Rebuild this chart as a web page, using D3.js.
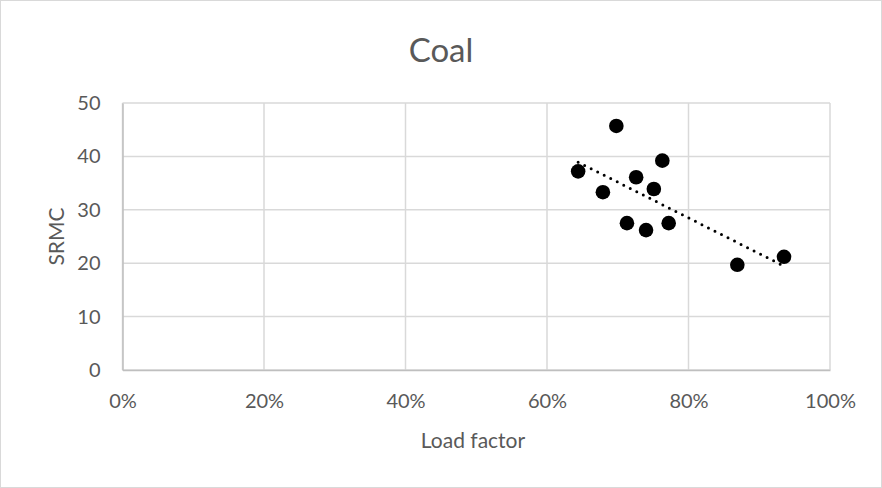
<!DOCTYPE html>
<html>
<head>
<meta charset="utf-8">
<script src="https://cdn.jsdelivr.net/npm/d3@7"></script>
<style>
  html, body { margin: 0; padding: 0; background: #fff; }
  svg text { font-family: Lato, "Open Sans", sans-serif; fill: #595959; }
</style>
</head>
<body>
<div id="chart"></div>
<script>
// Data
const loadFactor = [0.698, 0.763, 0.644, 0.726, 0.751, 0.679, 0.713, 0.772, 0.740, 0.869, 0.935];
const srmc = [45.7, 39.2, 37.2, 36.1, 33.9, 33.3, 27.5, 27.5, 26.2, 19.7, 21.2];
const xTicks = [0, 0.2, 0.4, 0.6, 0.8, 1.0];
const yTicks = [0, 10, 20, 30, 40, 50];
const chartTitle = 'Coal';
const xTitle = 'Load factor';
const yTitle = 'SRMC';

const width = 882, height = 488;
const margin = { top: 103, right: 52, bottom: 118, left: 122.5 };

const svg = d3.select('#chart')
  .append('svg')
  .attr('width', width)
  .attr('height', height);

// outer chart border
svg.append('rect')
  .attr('x', 0.5).attr('y', 0.5)
  .attr('width', width - 1).attr('height', height - 1)
  .attr('fill', '#fff')
  .attr('stroke', '#d9d9d9');

const x = d3.scaleLinear().domain([0, 1]).range([margin.left, width - margin.right]);
const y = d3.scaleLinear().domain([0, 50]).range([height - margin.bottom, margin.top]);

// gridlines
svg.append('g')
  .selectAll('line.hgrid')
  .data(yTicks)
  .join('line')
    .attr('class', 'hgrid')
    .attr('x1', x(0)).attr('x2', x(1))
    .attr('y1', d => y(d)).attr('y2', d => y(d))
    .attr('stroke', '#d9d9d9')
    .attr('stroke-width', 1.5);

svg.append('g')
  .selectAll('line.vgrid')
  .data(xTicks)
  .join('line')
    .attr('class', 'vgrid')
    .attr('x1', d => x(d)).attr('x2', d => x(d))
    .attr('y1', y(0)).attr('y2', y(50))
    .attr('stroke', '#d9d9d9')
    .attr('stroke-width', 1.5);

// axes (labels only, lines drawn by the grid)
const xAxis = d3.axisBottom(x).tickValues(xTicks).tickFormat(d3.format('.0%')).tickSize(0).tickPadding(24);
const yAxis = d3.axisLeft(y).tickValues(yTicks).tickSize(0).tickPadding(22);

const gx = svg.append('g')
  .attr('transform', `translate(0,${y(0)})`)
  .call(xAxis);
const gy = svg.append('g')
  .attr('transform', `translate(${x(0)},0)`)
  .call(yAxis);

[gx, gy].forEach(g => {
  g.select('.domain').attr('stroke', '#bfbfbf').attr('stroke-width', 1.5);
  g.selectAll('text').style('font-size', '20px').attr('fill', '#595959');
});

// trendline: linear least-squares fit of the points
const mx = d3.mean(loadFactor), my = d3.mean(srmc);
const slope = d3.sum(loadFactor, (v, i) => (v - mx) * (srmc[i] - my)) / d3.sum(loadFactor, v => (v - mx) ** 2);
const intercept = my - slope * mx;
const trend = d3.extent(loadFactor).map(v => [v, intercept + slope * v]);

svg.append('path')
  .datum(trend)
  .attr('d', d3.line().x(d => x(d[0])).y(d => y(d[1])))
  .attr('fill', 'none')
  .attr('stroke', '#000')
  .attr('stroke-width', 3)
  .attr('stroke-linecap', 'round')
  .attr('stroke-dasharray', '0,7.3');

// points
svg.append('g')
  .selectAll('circle')
  .data(loadFactor)
  .join('circle')
    .attr('cx', d => x(d))
    .attr('cy', (d, i) => y(srmc[i]))
    .attr('r', 7.3)
    .attr('fill', '#000');

// titles
svg.append('text')
  .attr('x', 441).attr('y', 62)
  .attr('text-anchor', 'middle')
  .style('font-size', '33px')
  .text(chartTitle);

svg.append('text')
  .attr('x', 473).attr('y', 448)
  .attr('text-anchor', 'middle')
  .style('font-size', '21px')
  .text(xTitle);

svg.append('text')
  .attr('transform', `translate(64,${(y(0) + y(50)) / 2}) rotate(-90)`)
  .attr('text-anchor', 'middle')
  .style('font-size', '21px')
  .text(yTitle);
</script>
</body>
</html>
